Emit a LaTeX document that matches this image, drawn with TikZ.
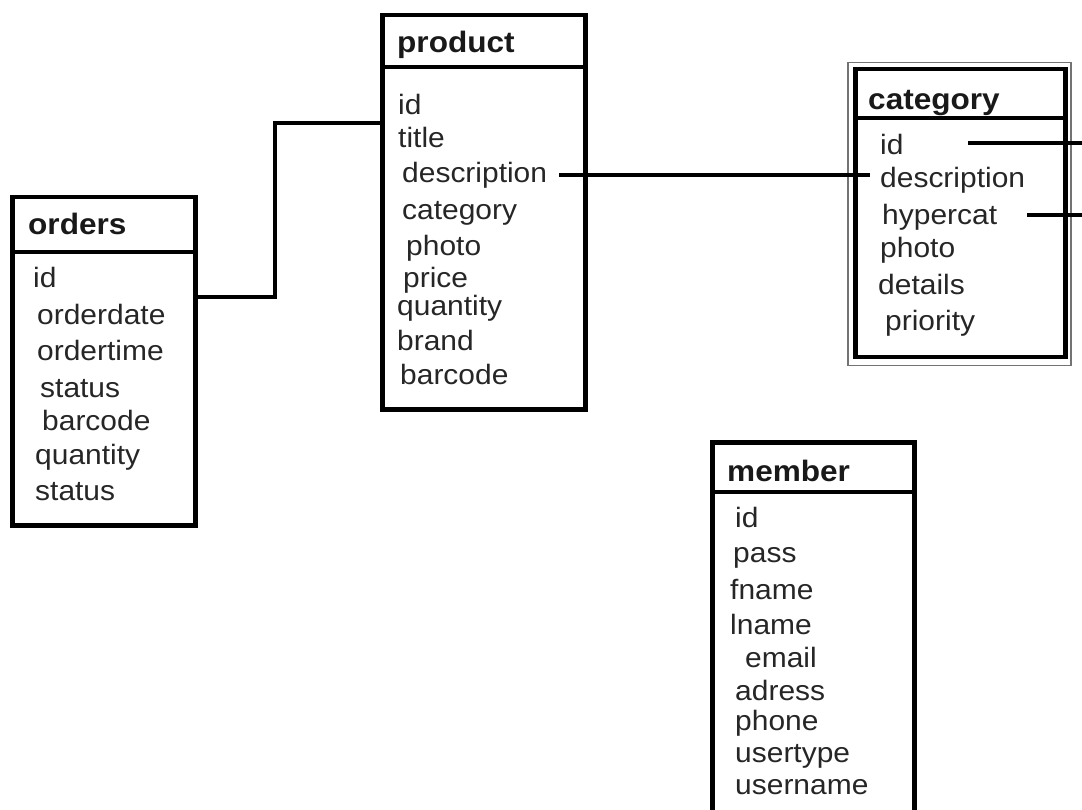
\documentclass[tikz,border=0pt]{standalone}
\usepackage{fontspec}
\setmainfont{Liberation Sans}[FakeStretch=1.07]
\usetikzlibrary{positioning}

\begin{document}
\begin{tikzpicture}[x=1pt, y=-1pt,
    tablebox/.style={draw, line width=4.5pt, anchor=north west, inner sep=0pt},
    thinframe/.style={draw=black!55, line width=1.5pt, anchor=north west, inner sep=0pt},
    headtext/.style={anchor=mid west, inner sep=0pt, yshift=-7pt, text=black!90, font=\fontsize{29.5}{32}\selectfont\bfseries},
    field/.style={anchor=mid west, inner sep=0pt, yshift=-5pt, text=black!85, font=\fontsize{28}{30}\selectfont},
    link/.style={line width=4pt}]
    \clip (0,0) rectangle (1082,810);

    % orders
    \node[tablebox, minimum width=183pt, minimum height=328pt] (orders) at (10,195) {};
    \draw[line width=4.5pt] ([yshift=-57pt]orders.north west) -- ([yshift=-57pt]orders.north east);
    \node[headtext] (ordershead) at (28,225) {orders};
    \node[field] (o1) at (33,280) {id};
    \node[field] (o2) at (37,317) {orderdate};
    \node[field] (o3) at (37,353) {ordertime};
    \node[field] (o4) at (40,390) {status};
    \node[field] (o5) at (42,423) {barcode};
    \node[field] (o6) at (35,457) {quantity};
    \node[field] (o7) at (35,493) {status};

    % product
    \node[tablebox, minimum width=203pt, minimum height=394pt] (product) at (380,13) {};
    \draw[line width=4.5pt] ([yshift=-54pt]product.north west) -- ([yshift=-54pt]product.north east);
    \node[headtext] (producthead) at (397,43) {product};
    \node[field] (p1) at (398,107) {id};
    \node[field] (p2) at (398,140) {title};
    \node[field] (pdesc) at (402,175) {description};
    \node[field] (p4) at (402,212) {category};
    \node[field] (p5) at (406,248) {photo};
    \node[field] (p6) at (403,280) {price};
    \node[field] (p7) at (397,308) {quantity};
    \node[field] (p8) at (397,343) {brand};
    \node[field] (p9) at (400,377) {barcode};

    % category
    \node[thinframe, minimum width=223pt, minimum height=303pt] (catframe) at (847,62) {};
    \node[tablebox, minimum width=210pt, minimum height=288pt] (category) at (853,67) {};
    \draw[line width=4.5pt] ([yshift=-51pt]category.north west) -- ([yshift=-51pt]category.north east);
    \node[headtext] (categoryhead) at (868,100) {category};
    \node[field] (cid) at (880,147) {id};
    \node[field] (cdesc) at (880,180) {description};
    \node[field] (chyper) at (882,217) {hypercat};
    \node[field] (c4) at (880,250) {photo};
    \node[field] (c5) at (878,287) {details};
    \node[field] (c6) at (885,323) {priority};

    % member
    \node[tablebox, minimum width=202pt, minimum height=380pt] (member) at (710,440) {};
    \draw[line width=4.5pt] ([yshift=-52pt]member.north west) -- ([yshift=-52pt]member.north east);
    \node[headtext] (memberhead) at (727,472) {member};
    \node[field] (m1) at (735,520) {id};
    \node[field] (m2) at (733,555) {pass};
    \node[field] (m3) at (730,592) {fname};
    \node[field] (m4) at (730,627) {lname};
    \node[field] (m5) at (745,660) {email};
    \node[field] (m6) at (735,693) {adress};
    \node[field] (m7) at (735,723) {phone};
    \node[field] (m8) at (735,755) {usertype};
    \node[field] (m9) at (735,787) {username};

    % links
    \draw[link] ([yshift=-102pt]orders.north east) -| (275,123) -- ([yshift=-110pt]product.north west);
    \draw[link] ([xshift=12pt]pdesc.east |- 0,175) -- ([xshift=-10pt]cdesc.west |- 0,175);
    \coordinate (idref) at (1086,143);
    \coordinate (hyperref) at (1086,215);
    \draw[link] (idref) -- ++(-118,0);
    \draw[link] (hyperref) -- ++(-59,0);
\end{tikzpicture}
\end{document}
